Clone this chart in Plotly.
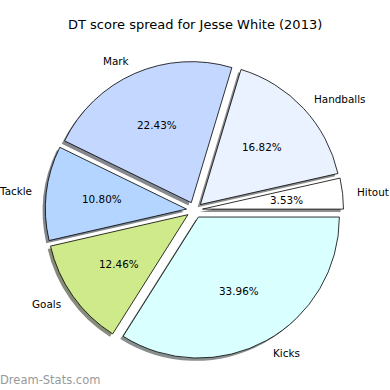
import math
import plotly.graph_objects as go

# ---- data ----
labels = ["Hitout", "Handballs", "Mark", "Tackle", "Goals", "Kicks"]
values = [3.53, 16.82, 22.43, 10.80, 12.46, 33.96]
colors = ["#ffffff", "#eaf1ff", "#c4d8ff", "#b4d5ff", "#cfea8a", "#d9ffff"]
title_text = "DT score spread for Jesse White (2013)"
watermark = "Dream-Stats.com"

W = H = 390
CX, CY = 194.5, 210.0      # pie centre (px, from top-left)
R = 141.0                  # pie radius (px)
PULL = 0.057               # explode fraction
SH = 2.8                   # shadow offset (px)
FONT = "DejaVu Sans"

total = sum(values)
# plotly (counterclockwise) places the first slice's far edge at `rotation`,
# so shift by the first slice so it starts at 3 o'clock like matplotlib
ROT = 90 - 360 * values[0] / total

def domain(cx, cy):
    half = R * (1 + PULL)
    return dict(x=[(cx - half) / W, (cx + half) / W],
                y=[1 - (cy + half) / H, 1 - (cy - half) / H])

def shade(hexc):
    h = hexc.lstrip("#")
    rgb = [int(h[i:i + 2], 16) for i in (0, 2, 4)]
    s = [int(0.18 * c + 98) for c in rgb]
    return "rgb(%d,%d,%d)" % tuple(s)

fig = go.Figure()
# shadow
fig.add_trace(go.Pie(
    labels=labels, values=values, sort=False, direction="counterclockwise",
    rotation=ROT, pull=[PULL] * len(values), textinfo="none", hoverinfo="skip",
    marker=dict(colors=[shade(c) for c in colors], line=dict(width=0)),
    domain=domain(CX - SH, CY + SH), showlegend=False,
))
# main pie
fig.add_trace(go.Pie(
    labels=labels, values=values, sort=False, direction="counterclockwise",
    rotation=ROT, pull=[PULL] * len(values), textinfo="none",
    marker=dict(colors=colors, line=dict(color="black", width=0.8)),
    domain=domain(CX, CY), showlegend=False,
))

# text placement (matplotlib-style: pct at 0.6R, labels at 1.1R)
annotations = []
base = dict(xref="paper", yref="paper", showarrow=False, borderpad=0, borderwidth=0)
cum = 0.0
for lab, v in zip(labels, values):
    mid = 2 * math.pi * (cum + v / 2) / total
    cum += v
    c, s = math.cos(mid), math.sin(mid)
    tx, ty = CX + PULL * R * c, CY - PULL * R * s
    px, py = tx + 0.6 * R * c, ty - 0.6 * R * s
    lx, ly = tx + 1.1 * R * c, ty - 1.1 * R * s
    annotations.append(dict(base, x=px / W, y=1 - py / H,
                            text="%.2f%%" % (100 * v / total),
                            xanchor="center", yanchor="middle",
                            font=dict(family=FONT, size=10.4, color="black")))
    annotations.append(dict(base, x=lx / W, y=1 - ly / H, text=lab,
                            xanchor="left" if c > 0 else "right", yanchor="middle",
                            font=dict(family=FONT, size=10.4, color="black")))

annotations.append(dict(base, x=0.5, y=1 - 25 / H, text=title_text,
                        xanchor="center", yanchor="middle",
                        font=dict(family=FONT, size=13, color="black")))
annotations.append(dict(base, x=0, y=1 - 380 / H, text=watermark,
                        xanchor="left", yanchor="middle",
                        font=dict(family=FONT, size=11.5, color="#999999")))

fig.update_layout(
    width=W, height=H, margin=dict(l=0, r=0, t=0, b=0),
    paper_bgcolor="white", plot_bgcolor="white",
    annotations=annotations,
)
fig.write_html("out.html", config={"displayModeBar": False},
               post_script="document.body.style.margin='0';document.body.style.overflow='hidden';")
